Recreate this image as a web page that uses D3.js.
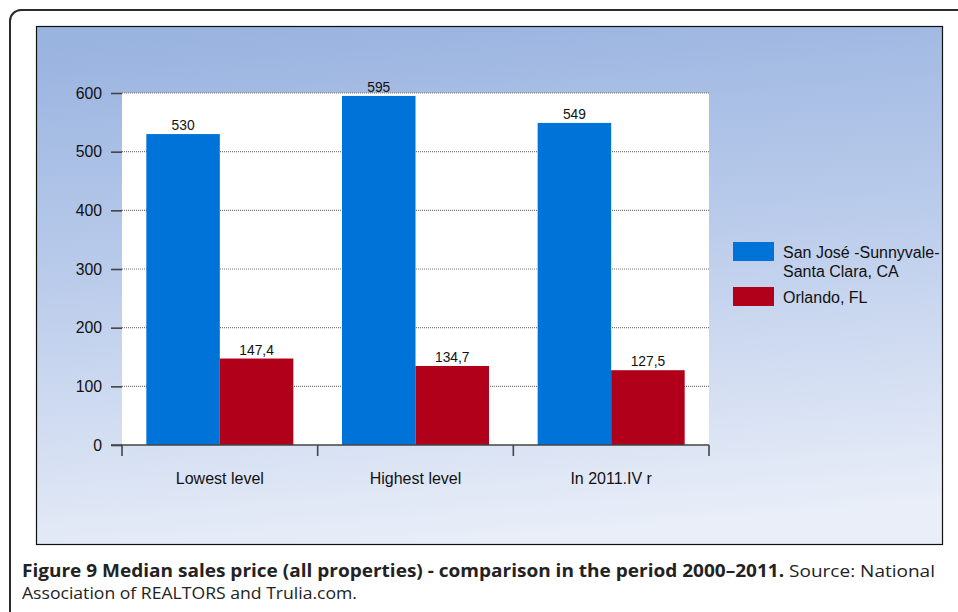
<!DOCTYPE html>
<html>
<head>
<meta charset="utf-8">
<script src="https://cdn.jsdelivr.net/npm/d3@7"></script>
<style>
  body { margin: 0; background: #fff; }
  svg { display: block; }
</style>
</head>
<body>
<div id="chart"></div>
<script>
// data
const categories = ["Lowest level", "Highest level", "In 2011.IV r"];
const seriesNames = ["San José -Sunnyvale-\nSanta Clara, CA", "Orlando, FL"];
const sanJose = [530, 595, 549];
const orlando = [147.4, 134.7, 127.5];
const yTicks = [0, 100, 200, 300, 400, 500, 600];
const colors = ["#0073d9", "#b1001a"];

const W = 958, H = 612;
const font = "Liberation Sans, Arial, Helvetica, sans-serif";
const svg = d3.select("#chart").append("svg")
    .attr("width", W).attr("height", H);

const defs = svg.append("defs");
const grad = defs.append("linearGradient")
    .attr("id", "bg").attr("x1", "0.3").attr("y1", "0").attr("x2", "0.45").attr("y2", "1");
grad.append("stop").attr("offset", "0").attr("stop-color", "#9ab4e0");
grad.append("stop").attr("offset", "0.5").attr("stop-color", "#bfcfec");
grad.append("stop").attr("offset", "1").attr("stop-color", "#e9eef8");

// outer frame
svg.append("rect")
    .attr("x", 10).attr("y", 10).attr("width", 1000).attr("height", 700)
    .attr("rx", 11)
    .attr("fill", "none").attr("stroke", "#2b2b2b").attr("stroke-width", 2);

// chart box
svg.append("rect")
    .attr("x", 36.5).attr("y", 26.5).attr("width", 906).attr("height", 518)
    .attr("fill", "url(#bg)").attr("stroke", "#111").attr("stroke-width", 1.2);

const plot = {left: 122, right: 709, top: 93, bottom: 445};

const x = d3.scaleBand().domain(categories).range([plot.left, plot.right]);
const x1 = d3.scaleBand().domain([0, 1]).range([0, x.bandwidth()]).paddingInner(0).paddingOuter(0.331);
const y = d3.scaleLinear().domain([0, 600]).range([plot.bottom, plot.top]);

// white plot area
svg.append("rect")
    .attr("x", plot.left).attr("y", plot.top)
    .attr("width", plot.right - plot.left).attr("height", plot.bottom - plot.top)
    .attr("fill", "#fff");

// gridlines
svg.append("g").selectAll("line").data(yTicks.filter(d => d > 0))
    .join("line")
    .attr("x1", plot.left).attr("x2", plot.right)
    .attr("y1", d => y(d)).attr("y2", d => y(d))
    .attr("stroke", "#777").attr("stroke-width", 1.2)
    .attr("stroke-dasharray", "1,1");

// bars
const groups = svg.append("g").selectAll("g").data(categories)
    .join("g")
    .attr("transform", d => `translate(${x(d)},0)`);

const vals = [sanJose, orlando];
groups.selectAll("rect")
    .data((d, i) => vals.map((s, k) => ({k, v: s[i]})))
    .join("rect")
    .attr("x", d => x1(d.k))
    .attr("width", x1.bandwidth())
    .attr("y", d => y(d.v))
    .attr("height", d => y(0) - y(d.v))
    .attr("fill", d => colors[d.k]);

groups.selectAll("text")
    .data((d, i) => vals.map((s, k) => ({k, v: s[i]})))
    .join("text")
    .attr("x", d => x1(d.k) + x1.bandwidth() / 2)
    .attr("y", d => y(d.v) - 4)
    .attr("text-anchor", "middle")
    .attr("font-family", font)
    .attr("font-size", 13.8)
    .attr("fill", "#111")
    .text(d => String(d.v).replace(".", ","));

// y axis
const yAxis = svg.append("g")
    .attr("transform", `translate(${plot.left},0)`)
    .call(d3.axisLeft(y).tickValues(yTicks).tickSize(11).tickPadding(9));
yAxis.select(".domain").remove();
yAxis.selectAll(".tick line").attr("stroke", "#444").attr("stroke-width", 1.6);
yAxis.selectAll(".tick text")
    .attr("font-family", font)
    .attr("font-size", 15.8).attr("fill", "#111");

// x axis
svg.append("line")
    .attr("x1", plot.left - 11).attr("x2", plot.right)
    .attr("y1", plot.bottom).attr("y2", plot.bottom)
    .attr("stroke", "#444").attr("stroke-width", 1.6);

const edges = categories.map(c => x(c)).concat([plot.right]);
svg.append("g").selectAll("line").data(edges)
    .join("line")
    .attr("x1", d => d).attr("x2", d => d)
    .attr("y1", plot.bottom).attr("y2", plot.bottom + 11)
    .attr("stroke", "#444").attr("stroke-width", 1.6);

svg.append("g").selectAll("text").data(categories)
    .join("text")
    .attr("x", d => x(d) + x.bandwidth() / 2)
    .attr("y", 484)
    .attr("text-anchor", "middle")
    .attr("font-family", font)
    .attr("font-size", 16)
    .attr("fill", "#111")
    .text(d => d);

// legend
const legend = svg.append("g").attr("transform", "translate(733,242)");
const legY = [0, 45];
seriesNames.forEach((name, i) => {
    legend.append("rect")
        .attr("x", 0).attr("y", legY[i]).attr("width", 41).attr("height", 19)
        .attr("fill", colors[i]);
    const t = legend.append("text")
        .attr("x", 50).attr("y", legY[i] + 15.5)
        .attr("font-family", font)
        .attr("font-size", 16)
        .attr("fill", "#111");
    name.split("\n").forEach((line, j) => {
        t.append("tspan").attr("x", 50).attr("dy", j ? 19.5 : 0).text(line);
    });
});

// caption
const cap = svg.append("text")
    .attr("x", 22).attr("y", 577)
    .attr("font-family", "Open Sans, sans-serif")
    .attr("font-size", 17)
    .attr("fill", "#222")
    .attr("textLength", 913)
    .attr("lengthAdjust", "spacingAndGlyphs");
cap.append("tspan")
    .attr("font-weight", "bold")
    .text("Figure 9 Median sales price (all properties) - comparison in the period 2000–2011.");
cap.append("tspan").text(" Source: National");
svg.append("text")
    .attr("x", 22).attr("y", 599)
    .attr("font-family", "Open Sans, sans-serif")
    .attr("font-size", 17)
    .attr("fill", "#222")
    .attr("textLength", 335)
    .attr("lengthAdjust", "spacingAndGlyphs")
    .text("Association of REALTORS and Trulia.com.");
</script>
</body>
</html>
